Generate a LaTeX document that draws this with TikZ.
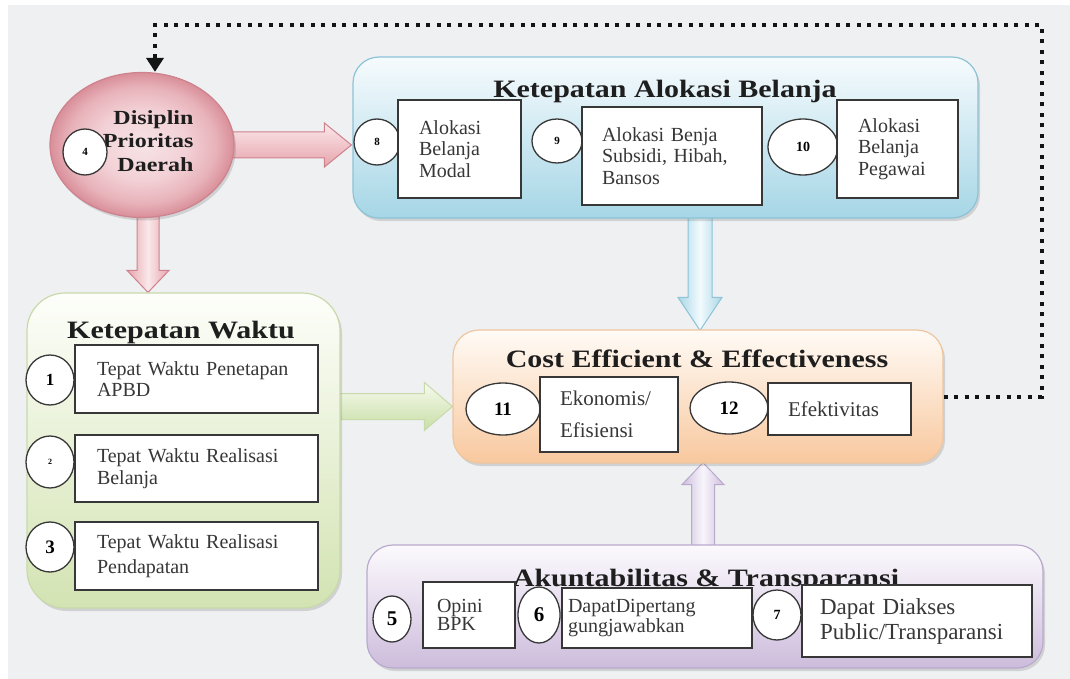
\documentclass[tikz,border=0pt]{standalone}
\usepackage{fontspec}
\setmainfont{Liberation Serif}
\newfontfamily\widefont{Liberation Serif}[FakeStretch=1.2]
\usetikzlibrary{shapes.geometric,arrows.meta,shadows,calc}
\definecolor{bg}{RGB}{239,240,242}
\definecolor{boxline}{RGB}{55,55,55}
\definecolor{itemtext}{RGB}{55,55,55}
\definecolor{titletext}{RGB}{30,30,30}
\definecolor{blueTop}{RGB}{246,251,253}
\definecolor{blueBot}{RGB}{166,214,230}
\definecolor{blueLine}{RGB}{140,195,215}
\definecolor{greenTop}{RGB}{253,254,250}
\definecolor{greenBot}{RGB}{211,227,178}
\definecolor{greenLine}{RGB}{200,218,170}
\definecolor{orTop}{RGB}{255,251,246}
\definecolor{orBot}{RGB}{248,200,158}
\definecolor{orLine}{RGB}{238,198,160}
\definecolor{puTop}{RGB}{252,250,253}
\definecolor{puBot}{RGB}{205,188,220}
\definecolor{puLine}{RGB}{185,170,205}
\definecolor{pinkLine}{RGB}{205,130,142}
\definecolor{pinkA}{RGB}{250,232,234}
\definecolor{pinkB}{RGB}{230,164,172}
\definecolor{blueA}{RGB}{242,250,253}
\definecolor{blueB}{RGB}{170,215,230}
\definecolor{greenA}{RGB}{246,250,238}
\definecolor{greenB}{RGB}{200,222,165}
\definecolor{puA}{RGB}{248,245,251}
\definecolor{puB}{RGB}{205,190,222}
\pgfdeclareradialshading{pinkell}{\pgfpoint{0bp}{0bp}}{%
  rgb(0bp)=(0.965,0.89,0.9); rgb(12bp)=(0.95,0.82,0.84); rgb(20bp)=(0.91,0.7,0.73);
  rgb(25bp)=(0.85,0.56,0.6); rgb(50bp)=(0.85,0.56,0.6)}
\newcommand\myitemfont{\fontsize{20}{21.5}\selectfont}
\newcommand\mytitlefont{\widefont\bfseries\fontsize{25}{28}\selectfont}
\pgfdeclarelayer{bottom}
\pgfdeclarelayer{arrows}
\pgfsetlayers{bottom,arrows,main}
\begin{document}
\begin{tikzpicture}[x=1pt,y=-1pt,
  cont/.style={rectangle, rounded corners=26pt, line width=1.2pt, inner sep=0pt,
    drop shadow={shadow xshift=2pt, shadow yshift=-3pt, opacity=0.22, fill=black!60}},
  item/.style={rectangle, draw=boxline, line width=1.4pt, fill=white, align=left,
    inner ysep=2pt, text=itemtext, font=\myitemfont},
  num/.style={ellipse, draw=boxline, line width=1.3pt, fill=white, inner sep=0pt,
    text=black},
  ttl/.style={anchor=base, text=titletext, font=\mytitlefont},
  dotline/.style={line width=4pt, dash pattern=on 4pt off 6.5pt, draw=black!92,
    -{Triangle[length=14pt,width=17pt]}},
  pinkh/.style={draw=pinkLine, line width=1pt, top color=pinkA, bottom color=pinkB},
  pinkv/.style={draw=pinkLine, line width=1pt, left color=pinkB, right color=pinkB, middle color=pinkA},
  bluev/.style={draw=blueLine, line width=1pt, left color=blueB, right color=blueB, middle color=blueA},
  greenh/.style={draw=greenLine, line width=1pt, top color=greenA, bottom color=greenB},
  purplev/.style={draw=puLine, line width=1pt, left color=puB, right color=puB, middle color=puA}
]
\useasboundingbox (0,0) rectangle (1070,679);
\begin{pgfonlayer}{bottom}
  \fill[white] (0,0) rectangle (1070,679);
  \fill[bg] (8,5) rectangle (1070,679);
\end{pgfonlayer}

% containers
\node[cont, minimum width=625pt, minimum height=161pt, top color=blueTop, bottom color=blueBot, draw=blueLine] (alok) at (665.5,137.5) {};
\node[cont, rounded corners=38pt, minimum width=313pt, minimum height=315pt, top color=greenTop, bottom color=greenBot, draw=greenLine] (waktu) at (183.5,450.5) {};
\node[cont, minimum width=490pt, minimum height=133pt, top color=orTop, bottom color=orBot, draw=orLine] (cost) at (698,396.5) {};
\node[cont, minimum width=676pt, minimum height=123pt, top color=puTop, bottom color=puBot, draw=puLine] (akun) at (705,606.5) {};
\node[ellipse, minimum width=184pt, minimum height=145pt, shading=pinkell, draw=pinkLine, line width=1.2pt,
  drop shadow={shadow xshift=2pt, shadow yshift=-3pt, opacity=0.22, fill=black!60}] (ell) at (142,145) {};

% titles
\node[ttl] (talok) at (665,98) {Ketepatan Alokasi Belanja};
\node[ttl] (twaktu) at (181,338) {Ketepatan Waktu};
\node[ttl] (tcost) at (697,367) {Cost Efficient \& Effectiveness};
\node[ttl] (takun) at (706,586) {Akuntabilitas \& Transparansi};
\node[anchor=east, align=right, text=titletext, font={\widefont\bfseries\fontsize{20}{23.5}\selectfont}] (elltxt) at (197,141) {Disiplin\\Prioritas\\Daerah};

% number circles
\node[num, minimum width=44pt, minimum height=46pt, font=\bfseries\fontsize{11}{12}\selectfont] (c4) at (85,152) {4};
\node[num, minimum width=46pt, minimum height=46pt, font=\bfseries\fontsize{11}{12}\selectfont] (c8) at (377,142) {8};
\node[num, minimum width=50pt, minimum height=44pt, font=\bfseries\fontsize{11}{12}\selectfont] (c9) at (557,141) {9};
\node[num, minimum width=70pt, minimum height=56pt, font=\bfseries\fontsize{14}{15}\selectfont] (c10) at (803,147) {10};
\node[num, minimum width=48pt, minimum height=50pt, font=\bfseries\fontsize{17}{18}\selectfont] (c1) at (50,380) {1};
\node[num, minimum width=48pt, minimum height=52pt, font=\bfseries\fontsize{8}{9}\selectfont] (c2) at (50,462) {2};
\node[num, minimum width=48pt, minimum height=50pt, font=\bfseries\fontsize{19}{20}\selectfont] (c3) at (50,547) {3};
\node[num, minimum width=74pt, minimum height=52pt, font=\bfseries\fontsize{19}{20}\selectfont] (c11) at (503,409) {11};
\node[num, minimum width=78pt, minimum height=52pt, font=\bfseries\fontsize{19}{20}\selectfont] (c12) at (729,408) {12};
\node[num, minimum width=38pt, minimum height=46pt, font=\bfseries\fontsize{21}{22}\selectfont] (c5) at (392,619) {5};
\node[num, minimum width=42pt, minimum height=56pt, font=\bfseries\fontsize{21}{22}\selectfont] (c6) at (539,615) {6};
\node[num, minimum width=48pt, minimum height=50pt, font=\bfseries\fontsize{14}{15}\selectfont] (c7) at (777,615) {7};

% item boxes
\node[item, inner xsep=21pt, text width=81pt, minimum height=98pt] (b8) at (459.5,149) {Alokasi\\Belanja\\Modal};
\node[item, inner xsep=20pt, text width=140pt, minimum height=98pt] (b9) at (672,156) {Alokasi Benja\\Subsidi, Hibah,\\Bansos};
\node[item, inner xsep=21pt, text width=79pt, minimum height=98pt] (b10) at (897.5,149) {Alokasi\\Belanja\\Pegawai};
\node[item, inner xsep=22pt, text width=199pt, minimum height=68pt] (b1) at (196.5,379) {Tepat Waktu Penetapan\\APBD};
\node[item, inner xsep=22pt, text width=199pt, minimum height=67pt] (b2) at (196.5,468.5) {Tepat Waktu Realisasi\\Belanja};
\node[item, inner xsep=22pt, text width=199pt, minimum height=68pt] (b3) at (196.5,556) {Tepat Waktu Realisasi\\[3pt]Pendapatan};
\node[item, inner xsep=20pt, text width=98pt, minimum height=75pt, font=\fontsize{21}{22}\selectfont] (b11) at (609,414.5) {Ekonomis/\\[10pt]Efisiensi};
\node[item, inner xsep=20pt, text width=103pt, minimum height=52pt, font=\fontsize{21}{22}\selectfont] (b12) at (839.5,409) {Efektivitas};
\node[item, inner xsep=14pt, text width=64pt, minimum height=66pt, font=\fontsize{20}{18}\selectfont] (b5) at (469,615) {Opini\\BPK};
\node[item, inner xsep=6pt, text width=178pt, minimum height=60pt, font=\fontsize{20}{18}\selectfont] (b6) at (657,618) {DapatDipertang\\gungjawabkan};
\node[item, inner xsep=18pt, text width=194pt, minimum height=72pt, font=\fontsize{23}{25}\selectfont] (b7) at (917,621) {Dapat Diakses\\Public/Transparansi};

% block arrows (behind containers)
\begin{pgfonlayer}{arrows}
  \draw[pinkh] let \p1=(ell.east), \p2=(alok.west) in
    (\x1-6pt,\y1+13pt) -- (\x2-28pt,\y1+13pt) -- (\x2-28pt,\y1+22pt) -- (\x2-1pt,\y1) --
    (\x2-28pt,\y1-22pt) -- (\x2-28pt,\y1-13pt) -- (\x1-6pt,\y1-13pt) -- cycle;
  \draw[pinkv] let \p1=(ell.south), \p2=(waktu.north) in
    (\x1-5pt,\y1+6pt) -- (\x1-5pt,\y2+22pt) -- (\x1-15pt,\y2+22pt) -- (\x1+6pt,\y2) --
    (\x1+27pt,\y2+22pt) -- (\x1+17pt,\y2+22pt) -- (\x1+17pt,\y1+6pt) -- cycle;
  \draw[bluev] let \p1=(alok.south), \p2=(cost.north) in
    (\x2-10pt,\y1+4pt) -- (\x2-10pt,\y2+32pt) -- (\x2-20pt,\y2+32pt) -- (\x2+2pt,\y2-1pt) --
    (\x2+24pt,\y2+32pt) -- (\x2+14pt,\y2+32pt) -- (\x2+14pt,\y1+4pt) -- cycle;
  \draw[greenh] let \p1=(waktu.east), \p2=(cost.west) in
    (\x1-4pt,\y1+57pt) -- (\x2-28pt,\y1+57pt) -- (\x2-28pt,\y1+68pt) -- (\x2,\y1+44pt) --
    (\x2-28pt,\y1+20pt) -- (\x2-28pt,\y1+31pt) -- (\x1-4pt,\y1+31pt) -- cycle;
  \draw[purplev] let \p1=(akun.north), \p2=(cost.south) in
    (\x1-13.5pt,\y1-4pt) -- (\x1-13.5pt,\y2-21pt) -- (\x1-23pt,\y2-21pt) -- (\x1-2pt,\y2+1pt) --
    (\x1+19pt,\y2-21pt) -- (\x1+9.5pt,\y2-21pt) -- (\x1+9.5pt,\y1-4pt) -- cycle;
\end{pgfonlayer}

% dotted feedback connector
\coordinate (dtr) at (1042,25);
\draw[dotline] (cost.east) -| (dtr) -| ([xshift=13pt]ell.north);
\end{tikzpicture}
\end{document}
